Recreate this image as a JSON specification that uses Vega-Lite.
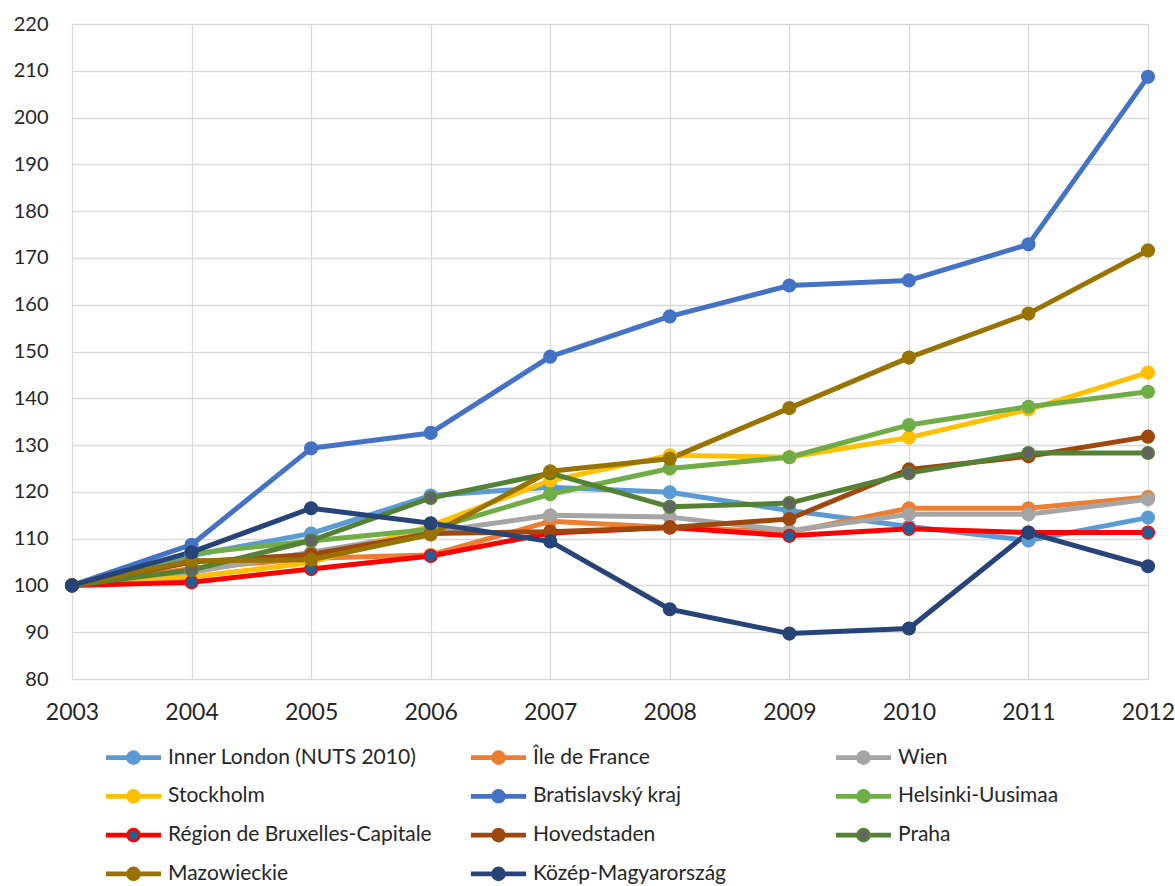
{
  "$schema": "https://vega.github.io/schema/vega-lite/v6.json",
  "width": 1076,
  "height": 655,
  "autosize": {"type": "none"},
  "padding": {"left": 72, "top": 24, "right": 27, "bottom": 207},
  "background": "white",
  "config": {"view": {"stroke": null}, "font": "Lato"},
  "datasets": {
    "series": [
      {"region": "Inner London (NUTS 2010)", "year": 2003, "value": 100}, {"region": "Inner London (NUTS 2010)", "year": 2004, "value": 106.4}, {"region": "Inner London (NUTS 2010)", "year": 2005, "value": 111.1}, {"region": "Inner London (NUTS 2010)", "year": 2006, "value": 119.2}, {"region": "Inner London (NUTS 2010)", "year": 2007, "value": 121.0}, {"region": "Inner London (NUTS 2010)", "year": 2008, "value": 119.9}, {"region": "Inner London (NUTS 2010)", "year": 2009, "value": 116.0}, {"region": "Inner London (NUTS 2010)", "year": 2010, "value": 112.6}, {"region": "Inner London (NUTS 2010)", "year": 2011, "value": 109.6}, {"region": "Inner London (NUTS 2010)", "year": 2012, "value": 114.5},
      {"region": "Île de France", "year": 2003, "value": 100}, {"region": "Île de France", "year": 2004, "value": 103.6}, {"region": "Île de France", "year": 2005, "value": 105.8}, {"region": "Île de France", "year": 2006, "value": 106.5}, {"region": "Île de France", "year": 2007, "value": 113.7}, {"region": "Île de France", "year": 2008, "value": 112.4}, {"region": "Île de France", "year": 2009, "value": 111.4}, {"region": "Île de France", "year": 2010, "value": 116.5}, {"region": "Île de France", "year": 2011, "value": 116.5}, {"region": "Île de France", "year": 2012, "value": 118.9},
      {"region": "Wien", "year": 2003, "value": 100}, {"region": "Wien", "year": 2004, "value": 102.8}, {"region": "Wien", "year": 2005, "value": 107.1}, {"region": "Wien", "year": 2006, "value": 111.4}, {"region": "Wien", "year": 2007, "value": 115.0}, {"region": "Wien", "year": 2008, "value": 114.6}, {"region": "Wien", "year": 2009, "value": 111.7}, {"region": "Wien", "year": 2010, "value": 115.2}, {"region": "Wien", "year": 2011, "value": 115.2}, {"region": "Wien", "year": 2012, "value": 118.4},
      {"region": "Stockholm", "year": 2003, "value": 100}, {"region": "Stockholm", "year": 2004, "value": 101.8}, {"region": "Stockholm", "year": 2005, "value": 104.9}, {"region": "Stockholm", "year": 2006, "value": 112.8}, {"region": "Stockholm", "year": 2007, "value": 122.4}, {"region": "Stockholm", "year": 2008, "value": 127.8}, {"region": "Stockholm", "year": 2009, "value": 127.4}, {"region": "Stockholm", "year": 2010, "value": 131.6}, {"region": "Stockholm", "year": 2011, "value": 137.6}, {"region": "Stockholm", "year": 2012, "value": 145.5},
      {"region": "Bratislavský kraj", "year": 2003, "value": 100}, {"region": "Bratislavský kraj", "year": 2004, "value": 108.7}, {"region": "Bratislavský kraj", "year": 2005, "value": 129.3}, {"region": "Bratislavský kraj", "year": 2006, "value": 132.6}, {"region": "Bratislavský kraj", "year": 2007, "value": 148.9}, {"region": "Bratislavský kraj", "year": 2008, "value": 157.5}, {"region": "Bratislavský kraj", "year": 2009, "value": 164.1}, {"region": "Bratislavský kraj", "year": 2010, "value": 165.2}, {"region": "Bratislavský kraj", "year": 2011, "value": 172.9}, {"region": "Bratislavský kraj", "year": 2012, "value": 208.7},
      {"region": "Helsinki-Uusimaa", "year": 2003, "value": 100}, {"region": "Helsinki-Uusimaa", "year": 2004, "value": 106.8}, {"region": "Helsinki-Uusimaa", "year": 2005, "value": 109.5}, {"region": "Helsinki-Uusimaa", "year": 2006, "value": 112.0}, {"region": "Helsinki-Uusimaa", "year": 2007, "value": 119.5}, {"region": "Helsinki-Uusimaa", "year": 2008, "value": 125.0}, {"region": "Helsinki-Uusimaa", "year": 2009, "value": 127.4}, {"region": "Helsinki-Uusimaa", "year": 2010, "value": 134.3}, {"region": "Helsinki-Uusimaa", "year": 2011, "value": 138.2}, {"region": "Helsinki-Uusimaa", "year": 2012, "value": 141.4},
      {"region": "Région de Bruxelles-Capitale", "year": 2003, "value": 100}, {"region": "Région de Bruxelles-Capitale", "year": 2004, "value": 100.7}, {"region": "Région de Bruxelles-Capitale", "year": 2005, "value": 103.5}, {"region": "Région de Bruxelles-Capitale", "year": 2006, "value": 106.3}, {"region": "Région de Bruxelles-Capitale", "year": 2007, "value": 111.2}, {"region": "Région de Bruxelles-Capitale", "year": 2008, "value": 112.4}, {"region": "Région de Bruxelles-Capitale", "year": 2009, "value": 110.6}, {"region": "Région de Bruxelles-Capitale", "year": 2010, "value": 112.1}, {"region": "Région de Bruxelles-Capitale", "year": 2011, "value": 111.3}, {"region": "Région de Bruxelles-Capitale", "year": 2012, "value": 111.3},
      {"region": "Hovedstaden", "year": 2003, "value": 100}, {"region": "Hovedstaden", "year": 2004, "value": 105.0}, {"region": "Hovedstaden", "year": 2005, "value": 106.6}, {"region": "Hovedstaden", "year": 2006, "value": 111.1}, {"region": "Hovedstaden", "year": 2007, "value": 111.5}, {"region": "Hovedstaden", "year": 2008, "value": 112.4}, {"region": "Hovedstaden", "year": 2009, "value": 114.2}, {"region": "Hovedstaden", "year": 2010, "value": 124.8}, {"region": "Hovedstaden", "year": 2011, "value": 127.6}, {"region": "Hovedstaden", "year": 2012, "value": 131.8},
      {"region": "Praha", "year": 2003, "value": 100}, {"region": "Praha", "year": 2004, "value": 103.3}, {"region": "Praha", "year": 2005, "value": 109.6}, {"region": "Praha", "year": 2006, "value": 118.7}, {"region": "Praha", "year": 2007, "value": 124.0}, {"region": "Praha", "year": 2008, "value": 116.8}, {"region": "Praha", "year": 2009, "value": 117.6}, {"region": "Praha", "year": 2010, "value": 124.0}, {"region": "Praha", "year": 2011, "value": 128.3}, {"region": "Praha", "year": 2012, "value": 128.3},
      {"region": "Mazowieckie", "year": 2003, "value": 100}, {"region": "Mazowieckie", "year": 2004, "value": 105.3}, {"region": "Mazowieckie", "year": 2005, "value": 105.5}, {"region": "Mazowieckie", "year": 2006, "value": 110.9}, {"region": "Mazowieckie", "year": 2007, "value": 124.4}, {"region": "Mazowieckie", "year": 2008, "value": 127.1}, {"region": "Mazowieckie", "year": 2009, "value": 137.9}, {"region": "Mazowieckie", "year": 2010, "value": 148.7}, {"region": "Mazowieckie", "year": 2011, "value": 158.1}, {"region": "Mazowieckie", "year": 2012, "value": 171.6},
      {"region": "Közép-Magyarország", "year": 2003, "value": 100}, {"region": "Közép-Magyarország", "year": 2004, "value": 107.1}, {"region": "Közép-Magyarország", "year": 2005, "value": 116.5}, {"region": "Közép-Magyarország", "year": 2006, "value": 113.3}, {"region": "Közép-Magyarország", "year": 2007, "value": 109.4}, {"region": "Közép-Magyarország", "year": 2008, "value": 94.9}, {"region": "Közép-Magyarország", "year": 2009, "value": 89.7}, {"region": "Közép-Magyarország", "year": 2010, "value": 90.8}, {"region": "Közép-Magyarország", "year": 2011, "value": 111.3}, {"region": "Közép-Magyarország", "year": 2012, "value": 104.1}
    ]
  },
  "data": {"name": "series"},
  "encoding": {
    "x": {
      "field": "year", "type": "quantitative",
      "scale": {"domain": [2003, 2012], "nice": false, "zero": false},
      "axis": {
        "title": null, "values": [2003, 2004, 2005, 2006, 2007, 2008, 2009, 2010, 2011, 2012],
        "format": "d", "grid": true, "gridColor": "#D9D9D9", "gridWidth": 1.3,
        "domain": false, "ticks": false, "tickSize": 0, "labelPadding": 22,
        "labelFontSize": 23, "labelFont": "Lato", "labelColor": "#262626", "labelFlush": false
      }
    },
    "y": {
      "field": "value", "type": "quantitative",
      "scale": {"domain": [80, 220], "nice": false, "zero": false},
      "axis": {
        "title": null, "values": [80, 90, 100, 110, 120, 130, 140, 150, 160, 170, 180, 190, 200, 210, 220],
        "grid": true, "gridColor": "#D9D9D9", "gridWidth": 1.3,
        "domain": false, "ticks": false, "tickSize": 0, "labelPadding": 24,
        "labelFontSize": 20, "labelFont": "Lato", "labelColor": "#262626", "labelFlush": false
      }
    }
  },
  "layer": [
    {
      "mark": {"type": "line", "strokeWidth": 5, "strokeJoin": "round"},
      "encoding": {
        "stroke": {
          "field": "region", "type": "nominal",
          "scale": {
            "domain": ["Inner London (NUTS 2010)", "Île de France", "Wien", "Stockholm", "Bratislavský kraj", "Helsinki-Uusimaa", "Région de Bruxelles-Capitale", "Hovedstaden", "Praha", "Mazowieckie", "Közép-Magyarország"],
            "range": ["#5B9BD5", "#ED7D31", "#A5A5A5", "#FFC000", "#4472C4", "#70AD47", "#FF0000", "#9E480E", "#548235", "#997300", "#264478"]
          },
          "legend": {
            "orient": "none", "direction": "horizontal", "legendX": 48, "legendY": 720, "columns": 3, "gridAlign": "all",
            "title": null, "padding": 0, "labelFontSize": 21, "labelFont": "Lato", "labelColor": "#262626",
            "labelLimit": 400, "labelOffset": 21, "rowPadding": 13.8, "columnPadding": 33,
            "symbolType": "M-2.3,-0.092H-0.5M-2.3,0.092H-0.5M0.5,-0.092H2.3M0.5,0.092H2.3M-0.5,0A0.5,0.5,0,1,1,0.5,0A0.5,0.5,0,1,1,-0.5,0Z",
            "symbolSize": 576, "symbolStrokeWidth": 2.6,
            "encode": {"symbols": {"update": {"fill": {"scale": "fill", "field": "value"}, "opacity": {"value": 1}}}}
          }
        }
      }
    },
    {
      "mark": {"type": "circle", "size": 160, "strokeWidth": 1.5, "opacity": 1},
      "encoding": {
        "stroke": {"field": "region", "type": "nominal"},
        "fill": {
          "field": "region", "type": "nominal",
          "scale": {
            "domain": ["Inner London (NUTS 2010)", "Île de France", "Wien", "Stockholm", "Bratislavský kraj", "Helsinki-Uusimaa", "Région de Bruxelles-Capitale", "Hovedstaden", "Praha", "Mazowieckie", "Közép-Magyarország"],
            "range": ["#5B9BD5", "#ED7D31", "#A5A5A5", "#FFC000", "#4472C4", "#70AD47", "#255E91", "#9E480E", "#636363", "#997300", "#264478"]
          },
          "legend": null
        }
      }
    }
  ]
}
